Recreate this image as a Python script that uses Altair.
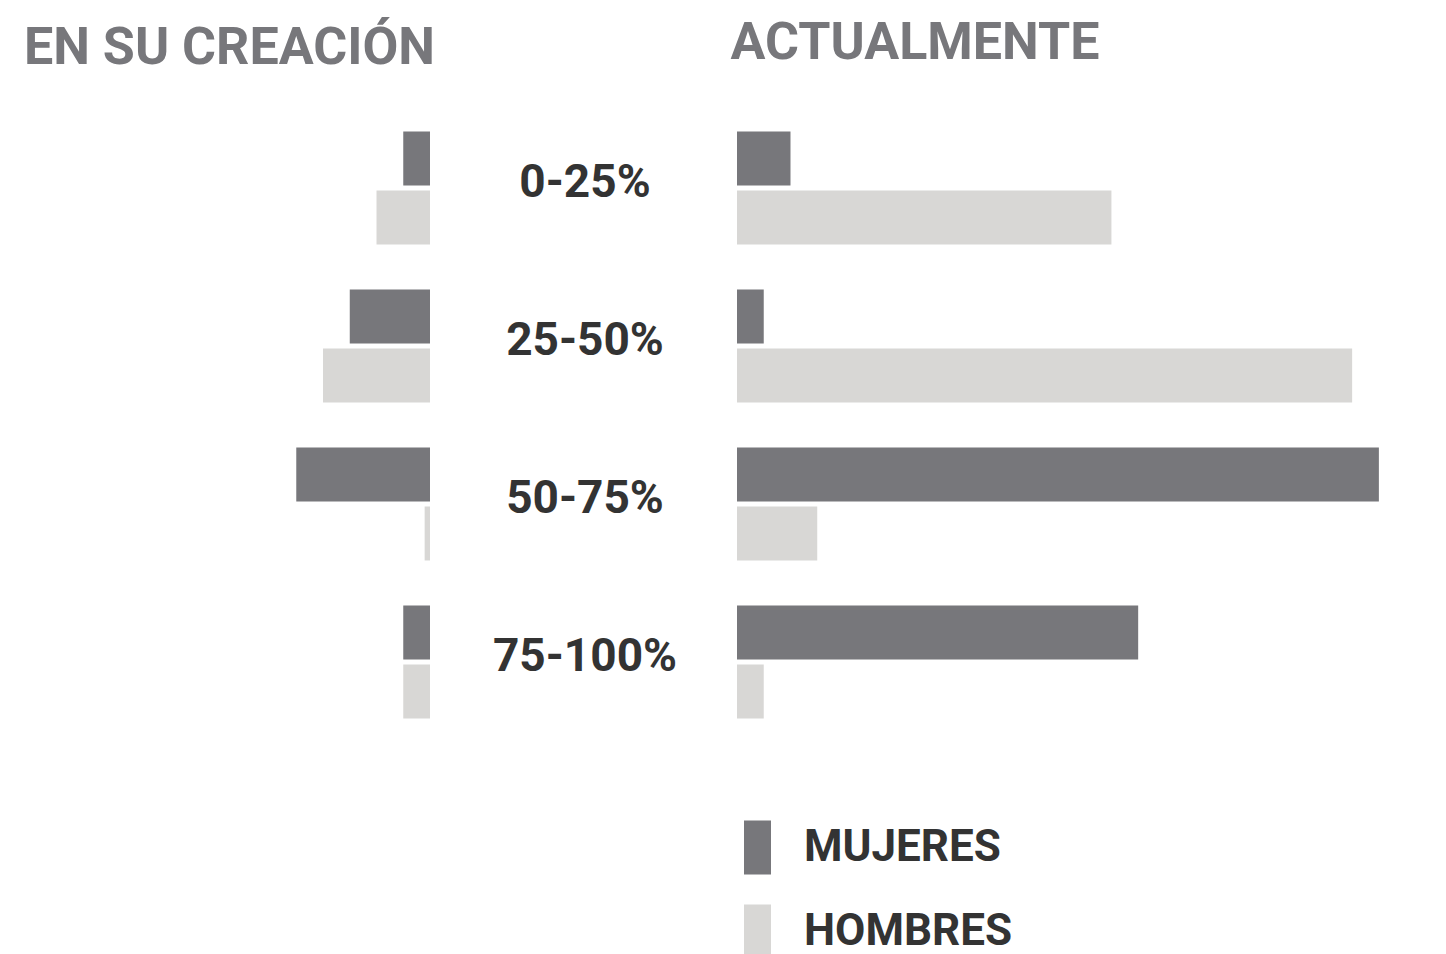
import altair as alt
import pandas as pd

# ---- data ----
rangos = ["0-25%", "25-50%", "50-75%", "75-100%"]
sexos = ["MUJERES", "HOMBRES"]
creacion_mujeres = [1, 3, 5, 1]
creacion_hombres = [2, 4, 0.2, 1]
actual_mujeres = [2, 1, 24, 15]
actual_hombres = [14, 23, 3, 1]


def tabla(mujeres, hombres):
    rows = []
    for r, vm, vh in zip(rangos, mujeres, hombres):
        rows.append({"rango": r, "sexo": sexos[0], "valor": vm})
        rows.append({"rango": r, "sexo": sexos[1], "valor": vh})
    return pd.DataFrame(rows)


FONT = "Roboto"
DARK = "#77777b"
LIGHT = "#d8d7d5"
TEXT = "#333333"

yscale = alt.Scale(domain=rangos, paddingInner=0.285, paddingOuter=0.1425)
yoff = alt.Scale(domain=sexos, paddingInner=0.0847, paddingOuter=0)
cscale = alt.Scale(domain=sexos, range=[DARK, LIGHT])


def titulo(texto, offset):
    return alt.TitleParams(
        texto, anchor="start", offset=offset, baseline="bottom",
        font=FONT, fontSize=52, fontWeight="bold", color=DARK,
    )


left = alt.Chart(tabla(creacion_mujeres, creacion_hombres),
                 title=titulo("EN SU CREACIÓN", -18)).mark_bar().encode(
    x=alt.X("valor:Q", scale=alt.Scale(domain=[0, 15.18], reverse=True, nice=False), axis=None),
    y=alt.Y("rango:N", scale=yscale, axis=None, sort=rangos),
    yOffset=alt.YOffset("sexo:N", scale=yoff, sort=sexos),
    color=alt.Color("sexo:N", scale=cscale, legend=None),
).properties(width=406, height=632)

mid = alt.Chart(pd.DataFrame({"rango": rangos})).mark_text(
    font=FONT, fontSize=46, fontWeight="bold", color=TEXT,
    align="center", baseline="alphabetic", dy=9,
).encode(
    y=alt.Y("rango:N", scale=yscale, axis=None, sort=rangos),
    x=alt.value(155),
    text="rango:N",
).properties(width=307, height=632)

right = alt.Chart(tabla(actual_mujeres, actual_hombres),
                  title=titulo("ACTUALMENTE", -13)).mark_bar().encode(
    x=alt.X("valor:Q", scale=alt.Scale(domain=[0, 25.5], nice=False), axis=None),
    y=alt.Y("rango:N", scale=yscale, axis=None, sort=rangos),
    yOffset=alt.YOffset("sexo:N", scale=yoff, sort=sexos),
    color=alt.Color("sexo:N", scale=cscale, legend=alt.Legend(
        title=None, orient="none", legendX=-6.5, legendY=711.5,
        symbolType="M-0.5,-1H0.5V1H-0.5Z", symbolSize=2916,
        symbolStrokeWidth=0, symbolOpacity=1,
        labelFont=FONT, labelFontSize=44, labelFontWeight="bold",
        labelColor=TEXT, labelOffset=19.5, labelLimit=0,
        rowPadding=30, padding=0,
    )),
).properties(width=682, height=632)

chart = alt.hconcat(left, mid, right, spacing=0, bounds="flush").resolve_scale(
    color="independent"
).resolve_legend(color="independent").properties(
    padding={"left": 16, "top": 9, "right": 0, "bottom": 0}
).configure_view(stroke=None)

chart.save("out.html", embed_options={"renderer": "svg", "actions": False})
